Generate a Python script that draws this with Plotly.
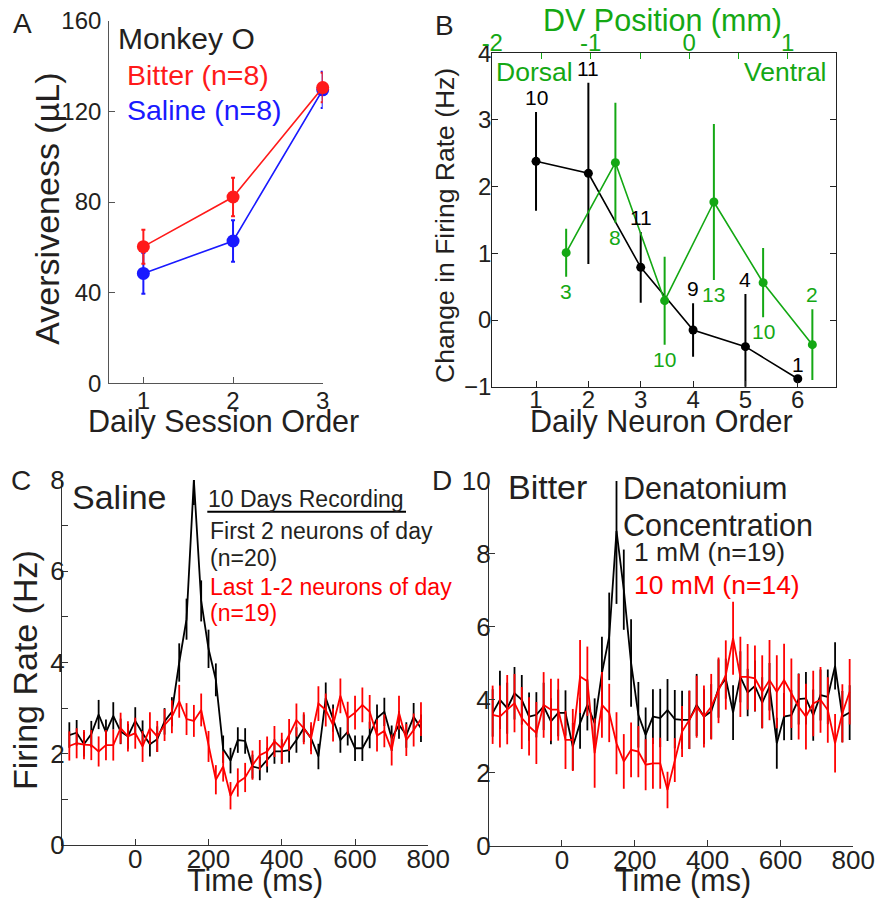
import plotly.graph_objects as go

FONT = "Liberation Sans, Arial, sans-serif"
TXT = "#231f20"
RED = "#ff1a1a"
BLUE = "#1a1aff"
GREEN = "#14a814"
W, H = 876, 900

# ---------------- Panel A data ----------------
sessions = [1, 2, 3]
bitter_mean = [60.3, 82.2, 130.5]
bitter_err = [7.5, 8.5, 6.5]
saline_mean = [48.5, 62.8, 129.5]
saline_err = [9.0, 9.2, 8.0]

# ---------------- Panel B data ----------------
neuron_order = [1, 2, 3, 4, 5, 6]
order_change = [2.38, 2.20, 0.79, -0.15, -0.40, -0.88]
order_err = [0.74, 1.36, 0.53, 0.40, 0.79, 0.0]
order_n = ["10", "11", "11", "9", "4", "1"]
dv_pos = [-1.25, -0.75, -0.25, 0.25, 0.75, 1.25]
dv_change = [1.01, 2.36, 0.29, 1.77, 0.56, -0.37]
dv_err = [0.36, 0.90, 0.66, 1.17, 0.52, 0.53]
dv_n = ["3", "8", "10", "13", "10", "2"]
dv_label_above = [False, False, False, False, False, True]
dv_ticks = [-2, -1.5, -1, -0.5, 0, 0.5, 1]
dv_ticktext = ["-2", "", "-1", "", "0", "", "1"]

# ---------------- Panel C data (Saline) ----------------
time_c = list(range(-180, 781, 20))
first_rate = [2.41, 2.46, 2.21, 2.43, 2.86, 2.47, 2.83, 2.49, 2.38, 2.72,
              2.45, 2.21, 2.32, 2.71, 2.92, 4.00, 4.95, 8.00, 5.35, 4.30,
              3.62, 2.10, 1.85, 2.30, 2.28, 1.72, 1.68, 1.86, 2.05, 2.05,
              2.08, 2.30, 2.56, 2.34, 1.94, 3.22, 2.78, 2.30, 2.48, 2.12,
              2.12, 2.41, 2.78, 2.92, 2.34, 2.63, 2.41, 2.81, 2.56]
first_err = [0.28, 0.28, 0.27, 0.29, 0.32, 0.28, 0.30, 0.28, 0.27, 0.30,
             0.28, 0.27, 0.28, 0.29, 0.32, 0.42, 0.45, 0.55, 0.45, 0.42,
             0.36, 0.30, 0.28, 0.28, 0.28, 0.26, 0.26, 0.27, 0.27, 0.27,
             0.27, 0.28, 0.30, 0.28, 0.28, 0.34, 0.30, 0.28, 0.30, 0.28,
             0.28, 0.29, 0.30, 0.31, 0.28, 0.30, 0.28, 0.30, 0.30]
last_rate = [2.17, 2.23, 2.20, 2.19, 2.05, 2.19, 2.19, 2.56, 2.38, 2.45,
             2.16, 2.56, 2.38, 2.63, 2.81, 3.15, 2.76, 2.72, 2.96, 2.16,
             1.43, 1.72, 1.08, 1.37, 1.48, 1.75, 1.97, 2.05, 2.27, 2.12,
             2.41, 2.74, 2.56, 2.34, 3.10, 2.96, 2.63, 3.27, 2.78, 2.90,
             3.07, 2.92, 2.40, 2.50, 2.08, 2.90, 2.30, 2.52, 2.76]
last_err = [0.32, 0.33, 0.32, 0.33, 0.33, 0.33, 0.34, 0.34, 0.33, 0.34,
            0.34, 0.35, 0.34, 0.35, 0.36, 0.36, 0.35, 0.35, 0.36, 0.34,
            0.32, 0.33, 0.30, 0.31, 0.32, 0.32, 0.33, 0.33, 0.34, 0.34,
            0.35, 0.36, 0.35, 0.35, 0.38, 0.36, 0.36, 0.38, 0.36, 0.37,
            0.38, 0.37, 0.35, 0.36, 0.34, 0.37, 0.35, 0.36, 0.37]

# ---------------- Panel D data (Bitter) ----------------
time_d = list(range(-190, 791, 20))
mm1_rate = [3.64, 4.00, 3.77, 4.18, 4.00, 3.54, 3.59, 3.82, 3.41, 3.64,
            3.64, 2.72, 3.36, 3.86, 3.36, 4.73, 5.74, 8.63, 7.02, 5.01,
            3.59, 3.04, 3.54, 3.50, 3.72, 3.47, 3.45, 3.45, 3.86, 3.54,
            3.68, 4.31, 4.58, 3.65, 4.63, 4.20, 4.38, 3.92, 4.36, 2.81,
            3.54, 3.58, 4.02, 4.04, 3.58, 4.13, 4.08, 4.93, 3.54, 3.65]
mm1_err = [0.65, 0.80, 0.70, 0.72, 0.68, 0.66, 0.62, 0.65, 0.63, 0.64,
           0.62, 0.65, 0.70, 0.70, 0.68, 1.00, 1.20, 2.00, 1.10, 1.20,
           0.90, 0.75, 0.75, 0.80, 0.85, 0.80, 0.80, 0.80, 0.85, 0.75,
           0.75, 0.80, 0.55, 0.75, 0.70, 0.65, 0.70, 0.70, 0.65, 0.70,
           0.65, 0.68, 0.70, 0.72, 0.70, 0.70, 0.75, 0.65, 0.70, 0.75]
mm10_rate = [3.59, 3.54, 3.73, 3.91, 3.50, 3.27, 3.09, 3.86, 3.73, 3.73,
             2.90, 2.90, 4.64, 4.51, 2.54, 3.86, 3.64, 2.81, 2.31, 2.63,
             2.58, 2.22, 2.26, 2.26, 1.53, 2.35, 3.13, 3.45, 3.81, 3.54,
             3.81, 4.26, 4.68, 5.69, 4.63, 4.63, 4.59, 4.22, 4.54, 4.22,
             4.54, 4.18, 3.81, 3.54, 3.90, 4.00, 3.72, 2.81, 3.63, 4.22]
mm10_err = [0.80, 0.85, 0.95, 0.80, 0.85, 0.80, 0.85, 0.90, 0.85, 0.85,
            0.80, 0.85, 1.00, 0.95, 0.95, 0.90, 0.80, 0.85, 0.75, 0.75,
            0.70, 0.70, 0.70, 0.70, 0.50, 0.60, 0.70, 0.80, 0.85, 0.85,
            0.90, 0.90, 0.95, 1.00, 1.10, 0.90, 0.90, 1.00, 1.10, 1.00,
            1.00, 0.95, 0.90, 0.90, 0.90, 0.90, 0.90, 0.80, 0.80, 0.90]


def px(x):
    return x / W


def py(y):
    return 1 - y / H


fig = go.Figure()

# Panel A traces
fig.add_trace(go.Scatter(
    x=sessions, y=saline_mean, mode="lines+markers",
    error_y=dict(type="data", array=saline_err, color=BLUE, thickness=2, width=2),
    line=dict(color=BLUE, width=1.6), marker=dict(size=13, color=BLUE),
    xaxis="x", yaxis="y", cliponaxis=False, showlegend=False))
fig.add_trace(go.Scatter(
    x=sessions, y=bitter_mean, mode="lines+markers",
    error_y=dict(type="data", array=bitter_err, color=RED, thickness=2, width=2),
    line=dict(color=RED, width=1.6), marker=dict(size=13, color=RED),
    xaxis="x", yaxis="y", cliponaxis=False, showlegend=False))

# Panel B traces
fig.add_trace(go.Scatter(
    x=neuron_order, y=order_change, mode="lines+markers",
    error_y=dict(type="data", array=order_err, color="black", thickness=2, width=0),
    line=dict(color="black", width=1.6), marker=dict(size=9, color="black"),
    xaxis="x2", yaxis="y2", cliponaxis=True, showlegend=False))
fig.add_trace(go.Scatter(
    x=dv_pos, y=dv_change, mode="lines+markers",
    error_y=dict(type="data", array=dv_err, color=GREEN, thickness=2, width=0),
    line=dict(color=GREEN, width=1.6), marker=dict(size=9, color=GREEN),
    xaxis="x3", yaxis="y2", cliponaxis=True, showlegend=False))

# Panel C traces
fig.add_trace(go.Scatter(
    x=time_c, y=first_rate, mode="lines",
    error_y=dict(type="data", array=first_err, color="black", thickness=1.8, width=0),
    line=dict(color="black", width=1.8),
    xaxis="x4", yaxis="y3", cliponaxis=False, showlegend=False))
fig.add_trace(go.Scatter(
    x=time_c, y=last_rate, mode="lines",
    error_y=dict(type="data", array=last_err, color="#ff0000", thickness=1.8, width=0),
    line=dict(color="#ff0000", width=1.8),
    xaxis="x4", yaxis="y3", cliponaxis=False, showlegend=False))

# Panel D traces
fig.add_trace(go.Scatter(
    x=time_d, y=mm1_rate, mode="lines",
    error_y=dict(type="data", array=mm1_err, color="black", thickness=1.8, width=0),
    line=dict(color="black", width=1.8),
    xaxis="x5", yaxis="y4", cliponaxis=False, showlegend=False))
fig.add_trace(go.Scatter(
    x=time_d, y=mm10_rate, mode="lines",
    error_y=dict(type="data", array=mm10_err, color="#ff0000", thickness=1.8, width=0),
    line=dict(color="#ff0000", width=1.8),
    xaxis="x5", yaxis="y4", cliponaxis=False, showlegend=False))

AX = dict(showgrid=False, zeroline=False, showline=True, ticks="inside",
          ticklen=6, tickwidth=1.2, linewidth=1.3, automargin=False)

fig.update_layout(
    width=W, height=H, margin=dict(l=0, r=0, t=0, b=0, autoexpand=False),
    paper_bgcolor="white", plot_bgcolor="rgba(0,0,0,0)",
    font=dict(family=FONT, color=TXT),
    # A
    xaxis=dict(AX, domain=[px(109.3), px(322.7)], anchor="y", range=[0.62, 3.0],
               tickvals=[1, 2, 3], linecolor="#555", tickcolor="#555",
               tickfont=dict(size=24, color=TXT), ticklabelstandoff=-4),
    yaxis=dict(AX, domain=[py(383.3), py(20.7)], anchor="x", range=[0, 160],
               tickvals=[0, 40, 80, 120, 160], linecolor="#555", tickcolor="#555",
               tickfont=dict(size=24, color=TXT), ticklabelstandoff=2),
    # B bottom
    xaxis2=dict(AX, domain=[px(492.3), px(836)], anchor="y2", range=[0.165, 6.73],
                tickvals=neuron_order, linecolor="#222", tickcolor="#222",
                tickfont=dict(size=24, color=TXT), ticklabelstandoff=-9),
    yaxis2=dict(AX, domain=[py(386.7), py(53.3)], anchor="x2", range=[-1, 4],
                tickvals=[-1, 0, 1, 2, 3, 4], linecolor="#222", tickcolor="#222",
                mirror="ticks", tickfont=dict(size=24, color=TXT), ticklabelstandoff=-5),
    # B top (DV position)
    xaxis3=dict(AX, overlaying="x2", side="top", anchor="y2", range=[-2, 1.49],
                tickvals=dv_ticks, ticktext=dv_ticktext, linecolor="#222",
                tickcolor=GREEN, tickfont=dict(size=24, color=GREEN), ticklabelstandoff=-8),
    # C
    xaxis4=dict(AX, domain=[px(62), px(428.3)], anchor="y3", range=[-200, 800],
                tickvals=[0, 200, 400, 600, 800], linecolor="#333", tickcolor="#333",
                tickfont=dict(size=26, color=TXT), ticklabelstandoff=-9),
    yaxis3=dict(AX, domain=[py(845), py(480)], anchor="x4", range=[0, 8],
                tickvals=[0, 2, 4, 6, 8], linecolor="#333", tickcolor="#333",
                minor=dict(dtick=1, ticks="inside", ticklen=6, tickcolor="#333"),
                tickfont=dict(size=26, color=TXT), ticklabelstandoff=-9),
    # D
    xaxis5=dict(AX, domain=[px(489), px(853.3)], anchor="y4", range=[-200, 800],
                tickvals=[0, 200, 400, 600, 800], linecolor="#333", tickcolor="#333",
                tickfont=dict(size=26, color=TXT), ticklabelstandoff=-9),
    yaxis4=dict(AX, domain=[py(845.7), py(481)], anchor="x5", range=[0, 10],
                tickvals=[0, 2, 4, 6, 8, 10], linecolor="#333", tickcolor="#333",
                tickfont=dict(size=26, color=TXT), ticklabelstandoff=-8),
)

anns = []


def ann(text, x, y, size, color=TXT, xanchor="left", yanchor="middle", angle=0):
    anns.append(dict(text=text, x=px(x), y=py(y), xref="paper", yref="paper",
                     xanchor=xanchor, yanchor=yanchor, showarrow=False,
                     textangle=angle, font=dict(size=size, color=color, family=FONT)))


# panel letters
ann("A", 22, 23, 28, xanchor="center")
ann("B", 444, 25, 28, xanchor="center")
ann("C", 21, 480, 28, xanchor="center")
ann("D", 442, 480, 28, xanchor="center")

# Panel A texts
ann("Aversiveness (µL)", 46.7, 209, 34, xanchor="center", angle=-90)
ann("Daily Session Order", 223.3, 421.7, 30.5, xanchor="center")
ann("Monkey O", 116, 38, 30)
ann("Bitter (n=8)", 125, 75, 28.5, color=RED)
ann("Saline (n=8)", 125, 110, 28.5, color=BLUE)

# Panel B texts
ann("Change in Firing Rate (Hz)", 445, 225, 26.5, xanchor="center", angle=-90)
ann("Daily Neuron Order", 661.3, 421.7, 30.5, xanchor="center")
ann("DV Position (mm)", 662.7, 20.7, 30.5, color=GREEN, xanchor="center")
ann("Dorsal", 494, 71.7, 26.5, color=GREEN)
ann("Ventral", 829, 71.7, 26.5, color=GREEN, xanchor="right")

for xo, yv, e, n in zip(neuron_order, order_change, order_err, order_n):
    anns.append(dict(text=n, x=xo, y=yv + e, xref="x2", yref="y2", showarrow=False,
                     xanchor="center", yanchor="bottom", yshift=1,
                     font=dict(size=21, color="black", family=FONT)))
for xo, yv, e, n, above in zip(dv_pos, dv_change, dv_err, dv_n, dv_label_above):
    anns.append(dict(text=n, x=xo, y=(yv + e) if above else (yv - e), xref="x3", yref="y2",
                     showarrow=False, xanchor="center",
                     yanchor="bottom" if above else "top", yshift=1 if above else -1,
                     font=dict(size=21, color=GREEN, family=FONT)))

# Panel C texts
ann("Firing Rate (Hz)", 25, 670, 34, xanchor="center", angle=-90)
ann("Time (ms)", 255, 880, 30.5, xanchor="center")
ann("Saline", 70, 497.3, 34)
ann("10 Days Recording", 206, 499.3, 23)
ann("First 2 neurons of day", 207.5, 530.7, 23)
ann("(n=20)", 207.5, 558.3, 23)
ann("Last 1-2 neurons of day", 207.5, 586.7, 23, color="#ff0000")
ann("(n=19)", 207.5, 613.3, 23, color="#ff0000")

# Panel D texts
ann("Time (ms)", 683.3, 880, 30.5, xanchor="center")
ann("Bitter", 506, 486.7, 34)
ann("Denatonium", 621, 488.3, 30.5)
ann("Concentration", 621, 525, 30.5)
ann("1 mM (n=19)", 632, 551.7, 26.5)
ann("10 mM (n=14)", 632, 585, 26.5, color="#ff0000")

fig.update_layout(annotations=anns)
fig.add_shape(type="line", xref="paper", yref="paper",
              x0=px(207.3), x1=px(406), y0=py(511.7), y1=py(511.7),
              line=dict(color="black", width=2))

# remove the browser's default 8px page margin so the 876x900 figure fills the window
fig.write_html("out.html", config={"displayModeBar": False},
               post_script="document.body.style.margin='0';document.body.style.overflow='hidden';")
